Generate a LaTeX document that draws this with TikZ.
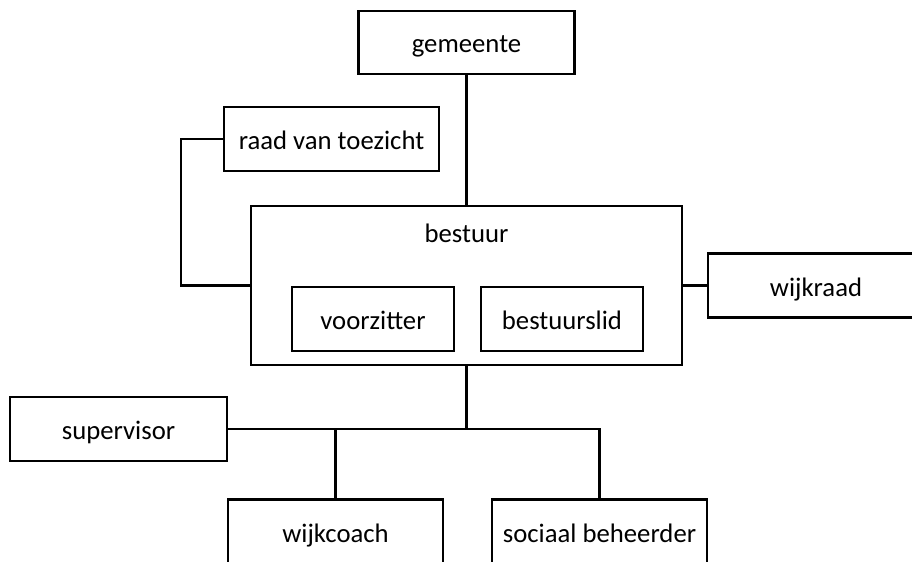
\documentclass[tikz,border=0pt]{standalone}
\usepackage{fontspec}
\setmainfont{Carlito}
\begin{document}
\begin{tikzpicture}[x=0.02cm,y=-0.02cm,line width=1.4pt,
    orgbox/.style={draw,minimum width=4.3cm,minimum height=1.28cm,inner sep=0pt,
      text height=0.42cm,text depth=0cm,font=\fontsize{15.2}{18}\selectfont}]
    \clip (0,0) rectangle (912,561);
    \node[orgbox,minimum width=4.32cm,minimum height=1.26cm] (gemeente) at (466.5,42.5) {gemeente};
    \node[orgbox] (raad) at (331.5,139) {raad van toezicht};
    \node[draw,minimum width=8.62cm,minimum height=3.18cm,
      label={[anchor=base,yshift=-0.76cm,font=\fontsize{15.2}{18}\selectfont]north:bestuur}] (bestuur) at (466.5,285.5) {};
    \node[orgbox,minimum width=3.24cm] (voorzitter) at (373,319) {voorzitter};
    \node[orgbox,minimum width=3.24cm] (bestuurslid) at (562,319) {bestuurslid};
    \node[orgbox,minimum width=4.32cm] (wijkraad) at (816,285.5) {wijkraad};
    \node[orgbox,minimum width=4.34cm] (supervisor) at (118.5,429) {supervisor};
    \node[orgbox] (wijkcoach) at (335.5,531.5) {wijkcoach};
    \node[orgbox] (beheerder) at (599.5,531.5) {sociaal beheerder};
    \draw (gemeente.south) -- (bestuur.north);
    \draw (raad.west) -- ++(-42,0) |- (bestuur.west);
    \draw (bestuur.east) -- (wijkraad.west);
    \coordinate (splits) at (bestuur.south |- supervisor.east);
    \draw (bestuur.south) -- (splits);
    \draw (supervisor.east) -| (beheerder.north);
    \draw (wijkcoach.north) |- (splits);
  \end{tikzpicture}
\end{document}
